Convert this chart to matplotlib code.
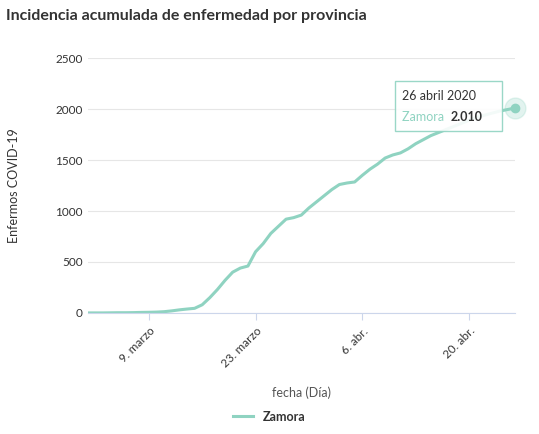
import matplotlib.pyplot as plt
import datetime as dt

plt.rcParams['font.family'] = ['Lato', 'DejaVu Sans']

start = dt.date(2020, 3, 1)
values = [0, 0, 0, 1, 2, 2, 3, 5, 6, 8, 12, 20, 30, 38, 45, 80, 150, 230, 320, 400,
          440, 460, 600, 680, 780, 850, 920, 935, 960, 1030, 1090,
          1150, 1210, 1260, 1275, 1285, 1350, 1410, 1460, 1520, 1550, 1570, 1610, 1660,
          1700, 1740, 1770, 1800, 1830, 1860, 1890, 1920, 1940, 1960, 1980, 1995, 2010]
dates = [start + dt.timedelta(days=i) for i in range(len(values))]
tick_dates = [dt.date(2020, 3, 9), dt.date(2020, 3, 23), dt.date(2020, 4, 6), dt.date(2020, 4, 20)]
tick_labels = ["9. marzo", "23. marzo", "6. abr.", "20. abr."]
color = "#8fd3c1"

fig = plt.figure(figsize=(5.39, 4.34), dpi=100)
ax = fig.add_axes([0.163, 0.279, 0.792, 0.587])
ax.plot(dates, values, color=color, lw=2.2, label="Zamora")
ax.plot(dates[-1], values[-1], 'o', color=color, ms=6, zorder=5, clip_on=False)
ax.plot(dates[-1], values[-1], 'o', color=color, ms=15, alpha=0.25, zorder=4, clip_on=False)

ax.set_ylim(0, 2500)
ax.set_yticks(range(0, 2501, 500))
ax.set_xlim(dates[0], dates[-1] + dt.timedelta(days=0.1))
ax.set_xticks(tick_dates)
ax.set_xticklabels(tick_labels, rotation=45, ha='right', rotation_mode='anchor')
ax.tick_params(axis='both', labelsize=8.5, colors='#333333', length=0)
ax.tick_params(axis='x', length=5, color='#ccd6eb', pad=4)
ax.grid(axis='y', color='#e6e6e6', lw=0.8)
for s in ['top', 'right', 'left']:
    ax.spines[s].set_visible(False)
ax.spines['bottom'].set_color('#ccd6eb')
ax.set_axisbelow(True)
ax.set_ylabel("Enfermos COVID-19", fontsize=9, color='#333333')
ax.yaxis.set_label_coords(-0.16, 0.5)
ax.set_xlabel("fecha (Día)", fontsize=9, color='#555555', labelpad=12)

fig.text(0.012, 0.955, "Incidencia acumulada de enfermedad por provincia",
         fontsize=11.5, color='#333333', weight='bold')

ax.text(0.735, 0.835, "26 abril 2020", transform=ax.transAxes, fontsize=9, color='#333333')
ax.text(0.735, 0.755, "Zamora ", transform=ax.transAxes, fontsize=9, color=color)
ax.text(0.85, 0.755, "2.010", transform=ax.transAxes, fontsize=9, color='#333333', weight='bold')
box = plt.Rectangle((0.72, 0.715), 0.25, 0.195, transform=ax.transAxes, fill=True,
                    facecolor='white', edgecolor=color, lw=1, zorder=3, alpha=0.9)
ax.add_patch(box)
for t in ax.texts:
    t.set_zorder(6)

leg = fig.legend(loc='lower center', bbox_to_anchor=(0.5, 0.0), frameon=False,
                 prop={'size': 9, 'weight': 'bold'}, handlelength=1.6)
for t in leg.get_texts():
    t.set_color('#333333')

fig.savefig("out.png", dpi=100)
